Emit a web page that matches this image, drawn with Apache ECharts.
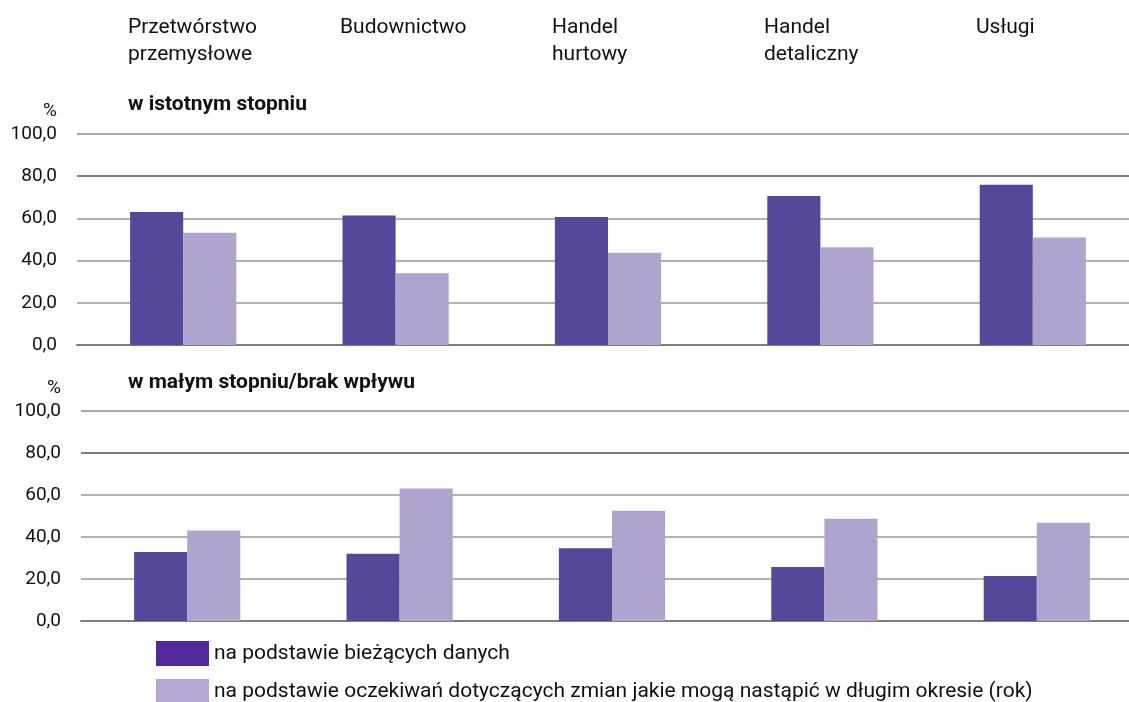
<!DOCTYPE html>
<html><head><meta charset="utf-8">
<script src="https://cdn.jsdelivr.net/npm/echarts@6/dist/echarts.min.js"></script>
<style>html,body{margin:0;padding:0;background:#fff}#c{width:1129px;height:702px}</style>
</head><body><div id="c"></div>
<script>
const categories = ['Przetwórstwo\nprzemysłowe', 'Budownictwo', 'Handel\nhurtowy', 'Handel\ndetaliczny', 'Usługi'];
const seriesNames = ['na podstawie bieżących danych', 'na podstawie oczekiwań dotyczących zmian jakie mogą nastąpić w długim okresie (rok)'];
const panelTitles = ['w istotnym stopniu', 'w małym stopniu/brak wpływu'];
const topCurrent = [63.0, 61.4, 60.7, 70.6, 76.0];
const topExpected = [53.2, 34.0, 43.7, 46.3, 50.9];
const bottomCurrent = [32.8, 32.0, 34.6, 25.7, 21.4];
const bottomExpected = [43.1, 63.1, 52.5, 48.7, 46.8];
const yTicks = {min: 0, max: 100, interval: 20};

const FONT = 'Roboto';
const darkBar = '#55489A', lightBar = '#B0A4CF';
const darkLeg = '#53289A', lightLeg = '#B8A6D5';
const splitColors = ['#999999', '#b3b3b3', '#b3b3b3', '#b3b3b3', '#808080', '#a8a8a8'];

function yAxis(gi) {
  return {
    type: 'value', gridIndex: gi, min: yTicks.min, max: yTicks.max, interval: yTicks.interval,
    name: '%', nameLocation: 'end', nameGap: 23,
    nameTextStyle: {fontFamily: FONT, fontSize: 19, color: '#111', align: 'right', verticalAlign: 'middle', padding: [0, 20, 0, 0]},
    axisLine: {show: false}, axisTick: {show: false},
    axisLabel: {fontFamily: FONT, fontSize: 19, color: '#111', margin: 20,
      formatter: v => v.toFixed(1).replace('.', ',')},
    splitLine: {show: true, lineStyle: {color: splitColors, width: 2}}
  };
}
function xAxis(gi) {
  return {
    type: 'category', gridIndex: gi, data: categories,
    axisLine: {show: true, onZero: true, lineStyle: {color: '#7f7f7f', width: 2}},
    axisTick: {show: false}, axisLabel: {show: false}
  };
}
const barCommon = {type: 'bar', barGap: '0%', barCategoryGap: '50%', animation: false};

const option = {
  backgroundColor: '#fff',
  animation: false,
  title: [
    {text: panelTitles[0], left: 123, top: 89, textStyle: {fontFamily: FONT, fontSize: 21, fontWeight: 'bold', color: '#111'}},
    {text: panelTitles[1], left: 123, top: 367, textStyle: {fontFamily: FONT, fontSize: 21, fontWeight: 'bold', color: '#111'}}
  ],
  grid: [
    {left: 77, width: 1062, top: 134, height: 211, outerBoundsMode: 'none', containLabel: false},
    {left: 81, width: 1062, top: 411, height: 210, outerBoundsMode: 'none', containLabel: false},
    {left: 22, width: 1060, top: 14, height: 10, outerBoundsMode: 'none', containLabel: false}
  ],
  xAxis: [
    xAxis(0), xAxis(1),
    {type: 'category', gridIndex: 2, data: categories, position: 'top',
      axisLine: {show: false}, axisTick: {show: false},
      axisLabel: {show: true, interval: 0, margin: 0, align: 'left', verticalAlign: 'top',
        fontFamily: FONT, fontSize: 21, lineHeight: 27, color: '#111'}}
  ],
  yAxis: [yAxis(0), yAxis(1), {type: 'value', gridIndex: 2, show: false}],
  legend: {
    orient: 'vertical', left: 151, top: 636, height: 90, itemWidth: 53, itemHeight: 25, itemGap: 13,
    itemStyle: {borderWidth: 0},
    textStyle: {fontFamily: FONT, fontSize: 21, color: '#111'},
    data: [
      {name: seriesNames[0], icon: 'rect', itemStyle: {color: darkLeg}},
      {name: seriesNames[1], icon: 'rect', itemStyle: {color: lightLeg}}
    ],
    selectedMode: false
  },
  series: [
    Object.assign({}, barCommon, {name: seriesNames[0], xAxisIndex: 0, yAxisIndex: 0, data: topCurrent, itemStyle: {color: darkBar}}),
    Object.assign({}, barCommon, {name: seriesNames[1], xAxisIndex: 0, yAxisIndex: 0, data: topExpected, itemStyle: {color: lightBar}}),
    Object.assign({}, barCommon, {name: seriesNames[0], xAxisIndex: 1, yAxisIndex: 1, data: bottomCurrent, itemStyle: {color: darkBar}}),
    Object.assign({}, barCommon, {name: seriesNames[1], xAxisIndex: 1, yAxisIndex: 1, data: bottomExpected, itemStyle: {color: lightBar}})
  ]
};
const chart = echarts.init(document.getElementById('c'), null, {renderer: 'canvas'});
chart.setOption(option);
</script></body></html>
